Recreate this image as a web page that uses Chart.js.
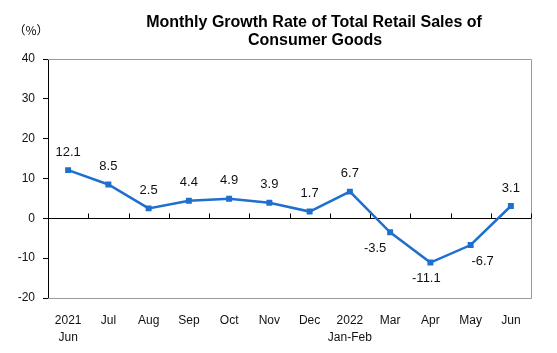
<!DOCTYPE html><html lang="en">
<head>
  <meta charset="UTF-8"/>
  <title>Monthly Growth Rate of Total Retail Sales of Consumer Goods</title>
  <script src="https://cdn.jsdelivr.net/npm/chart.js"></script>
  <style>
    *{box-sizing:border-box;margin:0;padding:0}
    body{background:#fff;width:557px;height:353px;overflow:hidden}
    #wrap{position:relative;width:557px;height:353px}
  </style>
</head>
<body>
  <div id="wrap"><canvas id="chart"></canvas></div>
  <script>
    // chart data
    const months = [['2021','Jun'],'Jul','Aug','Sep','Oct','Nov','Dec',['2022','Jan-Feb'],'Mar','Apr','May','Jun'];
    const growth = [12.1, 8.5, 2.5, 4.4, 4.9, 3.9, 1.7, 6.7, -3.5, -11.1, -6.7, 3.1];
    const yTicks = [-20, -10, 0, 10, 20, 30, 40];
    const titleLines = ['Monthly Growth Rate of Total Retail Sales of', 'Consumer Goods'];
    const unitLabel = '（%）';

    const BLUE = '#1f6fcf';
    const FONT = "'Liberation Sans', Arial, sans-serif";

    // frame, zero line with upward ticks, title, value labels
    const decor = {
      id: 'decor',
      beforeDatasetsDraw(chart){
        const {ctx, chartArea:a, scales:{x, y}} = chart;
        ctx.save();
        ctx.strokeStyle = '#9a9a9a'; ctx.lineWidth = 1;
        ctx.beginPath();
        ctx.moveTo(a.left, a.top + .5); ctx.lineTo(a.right + .5, a.top + .5);
        ctx.lineTo(a.right + .5, a.bottom + .5); ctx.lineTo(a.left, a.bottom + .5);
        ctx.stroke();
        const y0 = Math.round(y.getPixelForValue(0)) + .5;
        ctx.strokeStyle = '#000';
        ctx.beginPath();
        ctx.moveTo(a.left, y0); ctx.lineTo(a.right, y0);
        const half = (x.getPixelForValue(1) - x.getPixelForValue(0)) / 2;
        for (let i = 1; i <= months.length; i++){
          const px = Math.round(x.getPixelForValue(i) - half) + .5;
          ctx.moveTo(px, y0); ctx.lineTo(px, y0 - 5);
        }
        ctx.stroke();
        ctx.restore();
      },
      afterDatasetsDraw(chart){
        const {ctx} = chart;
        const pts = chart.getDatasetMeta(0).data;
        ctx.save();
        ctx.fillStyle = '#111';
        ctx.font = '13px ' + FONT;
        ctx.textAlign = 'center'; ctx.textBaseline = 'middle';
        // negatives sit below, nudged away from the line
        const nudge = {8:-15, 9:-4, 10:12};
        pts.forEach((p, i) => {
          const v = growth[i];
          const txt = v.toFixed(1);
          if (v >= 0) ctx.fillText(txt, p.x, p.y - 18);
          else ctx.fillText(txt, p.x + (nudge[i] || 0), p.y + 16);
        });
        // title
        ctx.fillStyle = '#000';
        ctx.font = 'bold 16px ' + FONT;
        ctx.fillText(titleLines[0], 314, 23);
        ctx.fillText(titleLines[1], 315, 41);
        ctx.font = "12px 'Noto Sans CJK SC', " + FONT;
        ctx.fillText(unitLabel, 31, 30);
        ctx.restore();
      }
    };

    new Chart(document.getElementById('chart'), {
      type: 'line',
      data: {
        labels: months,
        datasets: [{
          data: growth,
          borderColor: BLUE,
          backgroundColor: BLUE,
          borderWidth: 2.5,
          pointStyle: 'rect',
          pointRadius: 4.2,
          pointBorderWidth: 0,
          tension: 0
        }]
      },
      options: {
        responsive: true,
        maintainAspectRatio: false,
        animation: false,
        layout: {padding: {top: 59, right: 26, left: 0, bottom: 0}},
        plugins: {legend: {display: false}, tooltip: {enabled: false}},
        scales: {
          x: {
            offset: true,
            grid: {display: false},
            border: {display: false},
            ticks: {color: '#111', font: {family: FONT, size: 12, lineHeight: 1.35}, padding: 7, maxRotation: 0, autoSkip: false},
            afterFit(s){ s.height = 55; }
          },
          y: {
            min: yTicks[0], max: yTicks[yTicks.length - 1],
            afterBuildTicks(s){ s.ticks = yTicks.map(v => ({value: v})); },
            grid: {display: true, drawOnChartArea: false, drawTicks: true, tickLength: 5, color: '#000'},
            border: {display: true, color: '#000', width: 1},
            ticks: {color: '#111', font: {family: FONT, size: 12}, padding: 8},
            afterFit(s){ s.width = 48; }
          }
        }
      },
      plugins: [decor]
    });
  </script>
</body>
</html>
